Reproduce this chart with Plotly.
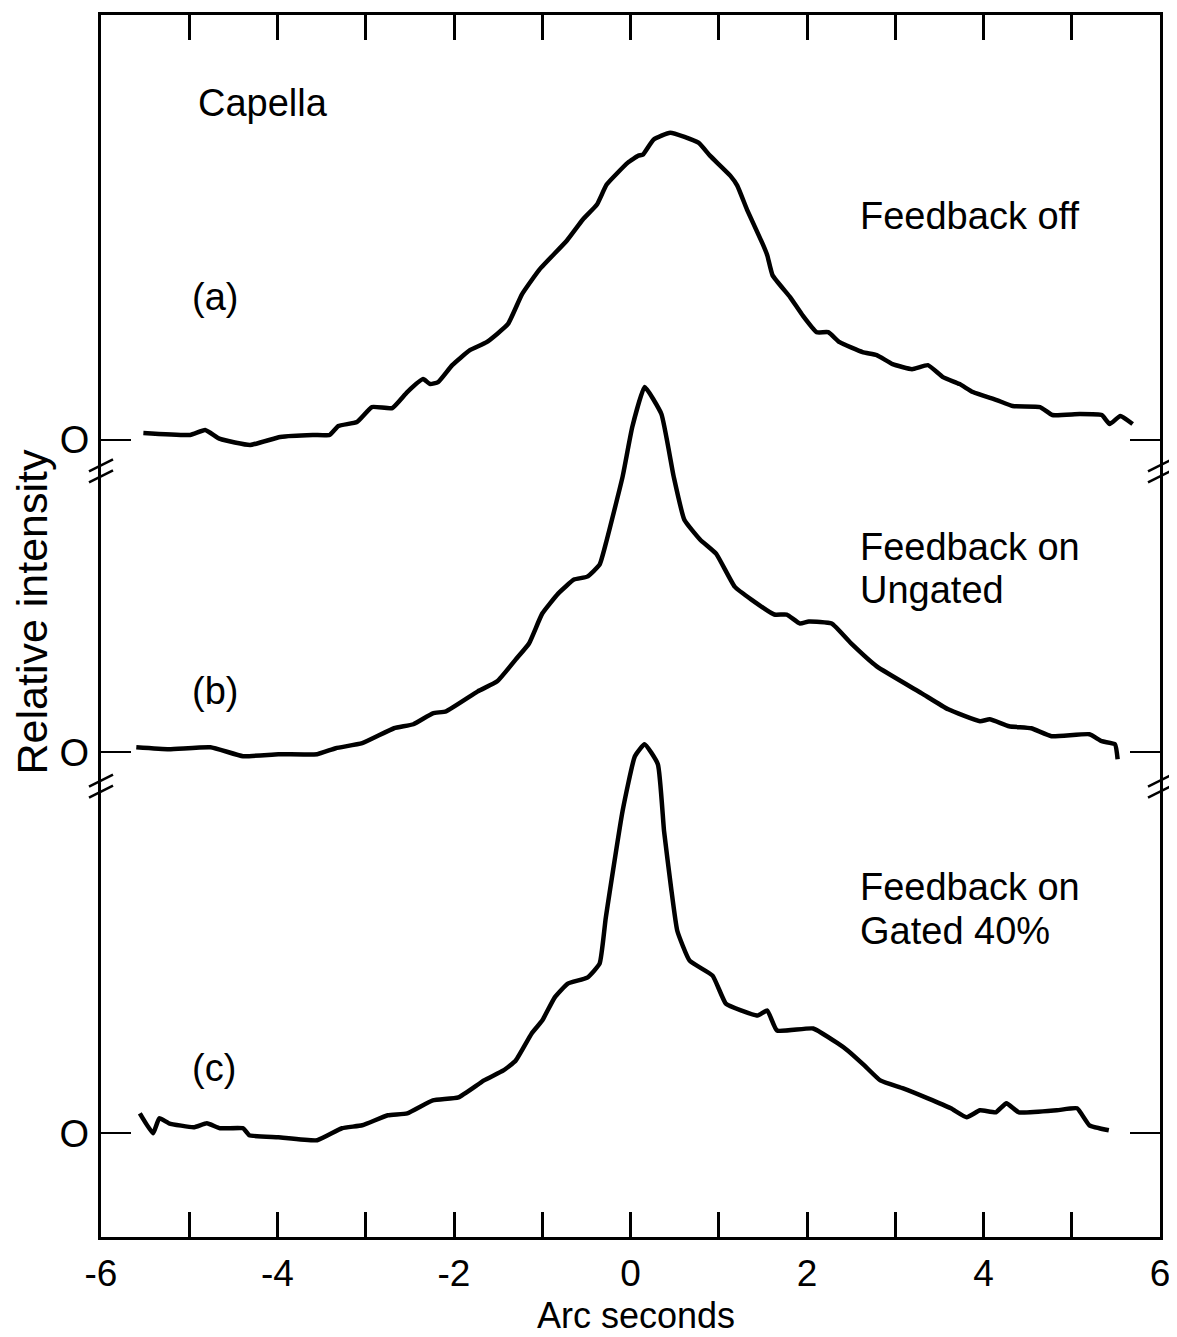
import plotly.graph_objects as go

# ---------------- data (arc seconds, relative intensity) ----------------
x_a = [-5.52, -4.99, -4.82, -4.65, -4.31, -3.97, -3.60, -3.41, -3.31, -3.10, -2.93, -2.70,
       -2.53, -2.35, -2.27, -2.18, -2.02, -1.82, -1.63, -1.39, -1.23, -1.03, -0.72, -0.54,
       -0.38, -0.27, -0.03, 0.09, 0.14, 0.26, 0.45, 0.77, 0.90, 1.13, 1.21, 1.32, 1.50,
       1.55, 1.61, 1.81, 1.95, 2.11, 2.24, 2.37, 2.63, 2.79, 2.97, 3.19, 3.37, 3.54, 3.73,
       3.88, 4.15, 4.33, 4.64, 4.78, 5.09, 5.34, 5.43, 5.55, 5.69]
y_a = [0.07, 0.05, 0.10, 0.01, -0.05, 0.03, 0.05, 0.05, 0.14, 0.18, 0.33, 0.32,
       0.48, 0.61, 0.56, 0.58, 0.75, 0.90, 0.98, 1.16, 1.46, 1.71, 2.00, 2.21,
       2.36, 2.56, 2.78, 2.85, 2.86, 3.01, 3.08, 2.98, 2.85, 2.65, 2.55, 2.31, 1.96,
       1.85, 1.65, 1.43, 1.25, 1.08, 1.08, 0.98, 0.88, 0.85, 0.76, 0.71, 0.75, 0.63, 0.56,
       0.48, 0.40, 0.34, 0.33, 0.25, 0.26, 0.25, 0.16, 0.24, 0.16]

x_b = [-5.60, -5.23, -4.76, -4.39, -3.99, -3.55, -3.34, -3.04, -2.68, -2.46, -2.24, -2.09,
       -1.73, -1.51, -1.30, -1.15, -1.00, -0.82, -0.64, -0.49, -0.35, -0.28, -0.09, 0.02,
       0.16, 0.35, 0.49, 0.61, 0.79, 0.97, 1.18, 1.37, 1.63, 1.77, 1.92, 2.02, 2.28, 2.50,
       2.79, 3.30, 3.60, 3.96, 4.07, 4.29, 4.54, 4.77, 5.20, 5.34, 5.49, 5.52]
y_b = [0.05, 0.03, 0.05, -0.04, -0.02, -0.02, 0.04, 0.09, 0.24, 0.28, 0.39, 0.41,
       0.61, 0.71, 0.93, 1.09, 1.39, 1.59, 1.73, 1.76, 1.88, 2.09, 2.76, 3.26,
       3.66, 3.39, 2.76, 2.33, 2.13, 1.99, 1.66, 1.53, 1.38, 1.38, 1.29, 1.31, 1.29, 1.09,
       0.86, 0.59, 0.43, 0.31, 0.33, 0.26, 0.24, 0.16, 0.18, 0.11, 0.08, -0.07]

x_c = [-5.56, -5.41, -5.34, -5.23, -4.95, -4.80, -4.65, -4.39, -4.32, -3.99, -3.55, -3.27,
       -3.04, -2.75, -2.53, -2.24, -1.95, -1.66, -1.44, -1.30, -1.12, -1.00, -0.86, -0.71,
       -0.49, -0.35, -0.28, -0.09, 0.05, 0.16, 0.31, 0.38, 0.46, 0.53, 0.67, 0.93, 1.08,
       1.26, 1.44, 1.55, 1.66, 2.07, 2.35, 2.46, 2.65, 2.83, 3.09, 3.37, 3.63, 3.81, 3.96,
       4.14, 4.26, 4.40, 4.83, 5.06, 5.20, 5.42]
y_c = [0.20, 0.00, 0.15, 0.10, 0.06, 0.10, 0.05, 0.05, -0.02, -0.04, -0.07, 0.05,
       0.08, 0.18, 0.20, 0.33, 0.36, 0.53, 0.63, 0.73, 1.00, 1.13, 1.36, 1.50,
       1.56, 1.70, 2.16, 3.23, 3.78, 3.90, 3.70, 3.03, 2.46, 2.03, 1.73, 1.58, 1.30,
       1.23, 1.18, 1.23, 1.03, 1.05, 0.90, 0.83, 0.68, 0.53, 0.45, 0.35, 0.25, 0.16, 0.23,
       0.21, 0.30, 0.21, 0.23, 0.25, 0.08, 0.03]

x_tick_vals = [-6, -5, -4, -3, -2, -1, 0, 1, 2, 3, 4, 5, 6]
x_tick_text = ["-6", "", "-4", "", "-2", "", "0", "", "2", "", "4", "", "6"]

# ---------------- figure ----------------
FONT = "Liberation Sans"
fig = go.Figure()
line_style = dict(color="black", width=4.5, shape="spline", smoothing=0.4)
fig.add_trace(go.Scatter(x=x_a, y=y_a, mode="lines", line=line_style, yaxis="y", showlegend=False))
fig.add_trace(go.Scatter(x=x_b, y=y_b, mode="lines", line=line_style, yaxis="y2", showlegend=False))
fig.add_trace(go.Scatter(x=x_c, y=y_c, mode="lines", line=line_style, yaxis="y3", showlegend=False))

common_y = dict(tickvals=[0], ticktext=["O"], ticks="inside", ticklen=30, tickwidth=2,
                tickcolor="black", showgrid=False, zeroline=False,
                tickfont=dict(family=FONT, size=38, color="black"))

fig.update_layout(
    width=1169, height=1329,
    margin=dict(l=93, r=17, t=4, b=100),
    paper_bgcolor="white", plot_bgcolor="white",
    font=dict(family=FONT, color="black"),
    xaxis=dict(range=[-6, 6], tickvals=x_tick_vals, ticktext=x_tick_text,
               ticks="inside", ticklen=25, tickwidth=2.5, tickcolor="black",
               showline=True, linewidth=3, linecolor="black", mirror="ticks",
               showgrid=False, zeroline=False, ticklabelstandoff=2,
               tickfont=dict(family=FONT, size=37, color="black")),
    yaxis=dict(range=[-7.99, 4.26], showline=True, linewidth=3, linecolor="black",
               mirror="ticks", ticklabelstandoff=1, **common_y),
    yaxis2=dict(range=[-4.86, 7.39], overlaying="y", showline=False, mirror="ticks",
                ticklabelstandoff=11, **common_y),
    yaxis3=dict(range=[-1.04, 11.21], overlaying="y", showline=False, mirror="ticks",
                ticklabelstandoff=11, **common_y),
)

# axis break marks (//) on both vertical axes
dx = 12 / 1059
for yref, yc in (("y", -0.31), ("y2", -0.34)):
    for xc in (0.0, 1.0):
        for off in (-0.055, 0.055):
            fig.add_shape(type="line", xref="paper", yref=yref,
                          x0=xc - dx, x1=xc + dx, y0=yc + off - 0.06, y1=yc + off + 0.06,
                          line=dict(color="black", width=2.5), layer="above")

def label(text, x, y, yref="y", xanchor="left"):
    fig.add_annotation(text=text, x=x, y=y, xref="x", yref=yref, xanchor=xanchor,
                       yanchor="middle", showarrow=False,
                       font=dict(family=FONT, size=38, color="black"))

label("Capella", -4.92, 3.38)
label("(a)", -4.99, 1.43)
label("Feedback off", 2.58, 2.25)
label("Feedback on", 2.58, 2.06, "y2")
label("Ungated", 2.58, 1.63, "y2")
label("(b)", -4.99, 0.61, "y2")
label("Feedback on", 2.58, 2.47, "y3")
label("Gated 40%", 2.58, 2.03, "y3")
label("(c)", -4.99, 0.65, "y3")

fig.add_annotation(text="Arc seconds", x=0.505, y=-0.0645, xref="paper", yref="paper",
                   xanchor="center", yanchor="middle", showarrow=False, borderpad=0,
                   font=dict(family=FONT, size=36, color="black"))
fig.add_annotation(text="Relative intensity", x=-0.065, y=0.512, xref="paper", yref="paper",
                   xanchor="center", yanchor="middle", textangle=-90, showarrow=False,
                   font=dict(family=FONT, size=43, color="black"))

fig.write_html("out.html")
